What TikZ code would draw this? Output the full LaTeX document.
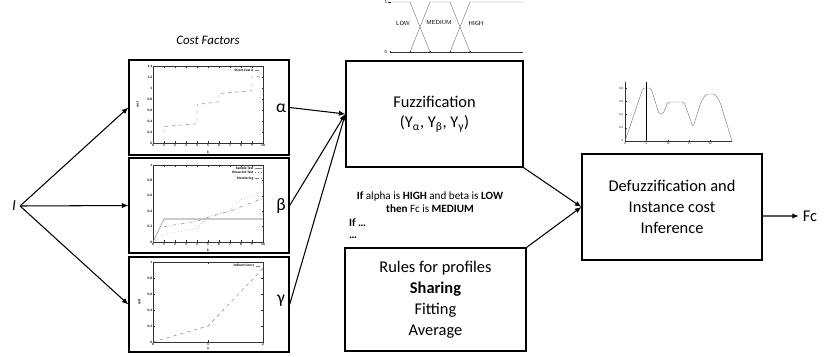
\documentclass[tikz,border=0pt]{standalone}
\usepackage{fontspec}
\setmainfont{Carlito}
\usetikzlibrary{positioning, arrows.meta}

\tikzset{
  blockbox/.style={draw, line width=1.1pt, align=center, font=\fontsize{14}{17.5}\selectfont},
  plotbox/.style={draw, line width=1.1pt, minimum width=4.8cm, minimum height=2.85cm},
  flow/.style={-{Latex[length=5.5pt, width=4.5pt]}, line width=0.9pt},
  ticklbl/.style={font=\fontsize{3}{3}\selectfont\bfseries, inner sep=0.6pt},
  axisline/.style={line width=0.3pt, black!80},
  curve/.style={line width=0.4pt, gray},
}

\begin{document}
\begin{tikzpicture}[x=0.03cm, y=-0.03cm]
  \useasboundingbox (0,0) rectangle (837,356);

  % input and cost factor plots
  \node[font=\fontsize{13}{13}\selectfont\itshape] (inp) at (14,206) {I};
  \node[font=\fontsize{11}{11}\selectfont\itshape] (factors) at (208,40) {Cost Factors};

  \node[plotbox] (costA) at (209,107.5) {};
  \node[plotbox] (costB) at (209,205.5) {};
  \node[plotbox] (costC) at (209,304.5) {};

  \node[font=\fontsize{15}{15}\selectfont] (lblA) at (281,108) {α};
  \node[font=\fontsize{15}{15}\selectfont] (lblB) at (281,206) {β};
  \node[font=\fontsize{15}{15}\selectfont] (lblC) at (281,301) {γ};

  % direct cost
  \begin{scope}[shift={(153,143)}, x=0.33cm, y=1.65cm]
    \draw[axisline] (0,0) rectangle (10,1.4);
    \foreach \t in {0,...,10} {
      \draw[axisline] (\t,0) -- ++(0,0.03) (\t,1.4) -- ++(0,-0.03);
      \node[ticklbl, below] (kA\t) at (\t,0) {\t};
    }
    \foreach \v [count=\i] in {0,0.2,0.4,0.6,0.8,1,1.2,1.4} {
      \draw[axisline] (0,\v) -- ++(0.12,0) (10,\v) -- ++(-0.12,0);
      \node[ticklbl, left] (vA\i) at (0,\v) {\v};
    }
    \node[ticklbl, rotate=90] (yA) at (-1.4,0.7) {cost};
    \node[ticklbl] (xA) at (5,-0.16) {k};
    \draw[curve, dashed] (0,0) -- (1,0) -- (1,0.3) -- (4,0.35) -- (4,0.7) -- (6,0.75)
      -- (6,0.9) -- (9,0.95) -- (9,1.2) -- (10,1.22);
    \node[ticklbl, anchor=east] (legA) at (9.2,1.32) {Direct Cost α};
    \draw[curve, dashed] (9.3,1.32) -- (9.9,1.32);
  \end{scope}

  % tests
  \begin{scope}[shift={(153,242)}, x=0.33cm, y=2.31cm]
    \draw[axisline] (0,0) rectangle (10,1);
    \foreach \t in {0,...,10} {
      \draw[axisline] (\t,0) -- ++(0,0.03) (\t,1) -- ++(0,-0.03);
      \node[ticklbl, below] (kB\t) at (\t,0) {\t};
    }
    \foreach \v [count=\i] in {0,0.2,0.4,0.6,0.8,1} {
      \draw[axisline] (0,\v) -- ++(0.12,0) (10,\v) -- ++(-0.12,0);
      \node[ticklbl, left] (vB\i) at (0,\v) {\v};
    }
    \node[ticklbl] (xB) at (5,-0.11) {k};
    \draw[gray!40, line width=1.2pt] (1,0.3) -- (10,0.3);
    \draw[curve] (0,0) -- (1,0.3);
    \draw[curve, dotted] (0,0) -- (1,0.1) -- (4,0.18) -- (5,0.33) -- (7,0.42) -- (8,0.55) -- (10,0.65);
    \draw[curve, dash dot] (1,0.2) -- (4,0.27) -- (5,0.32) -- (7,0.4) -- (10,0.57);
    \node[ticklbl, anchor=east] (legB1) at (9.2,0.96) {Sample Test};
    \node[ticklbl, anchor=east] (legB2) at (9.2,0.9) {Recurrent Test};
    \node[ticklbl, anchor=east] (legB3) at (9.2,0.83) {Monitoring};
    \draw[curve] (9.3,0.96) -- (9.9,0.96);
    \draw[curve, dotted] (9.3,0.9) -- (9.9,0.9);
    \draw[curve, dash dot] (9.3,0.83) -- (9.9,0.83);
  \end{scope}

  % indirect cost
  \begin{scope}[shift={(153,342)}, x=1.65cm, y=2.4cm]
    \draw[axisline] (0,0) rectangle (2,1);
    \foreach \t in {0,1,2} {
      \draw[axisline] (\t,0) -- ++(0,0.03) (\t,1) -- ++(0,-0.03);
      \node[ticklbl, below] (kC\t) at (\t,0) {\t};
    }
    \foreach \v [count=\i] in {0,0.2,0.4,0.6,0.8,1} {
      \draw[axisline] (0,\v) -- ++(0.04,0) (2,\v) -- ++(-0.04,0);
      \node[ticklbl, left] (vC\i) at (0,\v) {\v};
    }
    \node[ticklbl, rotate=90] (yC) at (-0.25,0.5) {cost};
    \node[ticklbl] (xC) at (1,-0.08) {n};
    \draw[curve, dashed] (0,0) -- (1,0.2) -- (2,0.92);
    \node[ticklbl, anchor=east] (legC) at (1.86,0.95) {Indirect Cost γ};
    \draw[curve, dashed] (1.88,0.95) -- (1.98,0.95);
  \end{scope}

  % main blocks
  \node[blockbox, minimum width=5.31cm, minimum height=3.18cm] (fuzz) at (434.5,114)
    {Fuzzification\\(Y\textsubscript{α}, Y\textsubscript{β}, Y\textsubscript{γ})};
  \node[blockbox, minimum width=5.43cm, minimum height=3.09cm,
        font=\fontsize{14}{18}\selectfont] (rules) at (435.5,299.5)
    {Rules for profiles\\\textbf{Sharing}\\Fitting\\Average};
  \node[blockbox, minimum width=5.4cm, minimum height=3.18cm,
        font=\fontsize{14}{18}\selectfont] (defuzz) at (672,207)
    {Defuzzification and\\Instance cost\\Inference};
  \node[font=\fontsize{14}{14}\selectfont] (fc) at (810,216) {Fc};

  % rule text
  \node[font=\fontsize{9.5}{11}\selectfont, align=center] (ruleA) at (430,202)
    {\textbf{If} alpha is \textbf{HIGH} and beta is \textbf{LOW}\\\textbf{then} Fc is \textbf{MEDIUM}};
  \node[font=\fontsize{9.5}{11}\selectfont\bfseries, anchor=west, inner sep=0pt] (ruleB) at (349,223) {If …};
  \node[font=\fontsize{9.5}{11}\selectfont\bfseries, anchor=west, inner sep=0pt] (ruleC) at (349,238) {…};

  % membership functions
  \draw[curve] (390,2) -- (410,2) -- (430,52);
  \draw[curve] (410,52) -- (430,2) -- (450,2) -- (470,52);
  \draw[curve] (450,52) -- (470,2) -- (523,2);
  \draw[axisline] (390,52) -- (523,52);
  \foreach \p in {390,410,430,450,470} \draw[axisline] (\p,52) -- ++(0,-1.5);
  \draw[axisline] (388,2) -- (391,2);
  \node[ticklbl, font=\fontsize{4}{4}\selectfont, anchor=east] (muA) at (388,2) {1};
  \node[ticklbl, font=\fontsize{4}{4}\selectfont, anchor=east] (muB) at (388,52) {0};
  \node[font=\fontsize{5}{5}\selectfont\sffamily] (low) at (403,23) {LOW};
  \node[font=\fontsize{5}{5}\selectfont\sffamily] (med) at (439,23) {MEDIUM};
  \node[font=\fontsize{5}{5}\selectfont\sffamily] (high) at (476,23) {HIGH};

  % aggregated output
  \draw[axisline] (625,82) -- (625,141) -- (732,141);
  \draw[line width=0.4pt] (646,82) -- (646,141);
  \draw[curve, rounded corners=1.5pt] (625,141) -- (643,88) -- (651,88) -- (659,114) -- (663,114)
    -- (668,102) -- (684,102) -- (693,127) -- (701,102) -- (706,94) -- (715,94) -- (720,102) -- (732,141);
  \foreach \v/\py [count=\i] in {0/141,0.2/127.8,0.4/114.4,0.6/101.6,0.8/88.3} {
    \draw[axisline] (625,\py) -- ++(1.5,0);
    \node[ticklbl, font=\fontsize{2.5}{2.5}\selectfont, anchor=east] (dy\i) at (624,\py) {\v};
  }
  \foreach \v/\px [count=\i] in {0/625,5/646,10/668,15/689,20/710} {
    \draw[axisline] (\px,141) -- ++(0,-1.5);
    \node[ticklbl, font=\fontsize{2.5}{2.5}\selectfont, anchor=north] (dx\i) at (\px,142) {\v};
  }

  % connectors
  \draw[flow] (inp.east) -- (costA.west);
  \draw[flow] (inp.east) -- (costB.west);
  \draw[flow] (inp.east) -- (costC.west);

  \draw[flow] (costA.east) -- (fuzz.west);
  \draw[flow] (costB.east) -- (fuzz.west);
  \draw[flow] (costC.east) -- (fuzz.west);

  \draw[flow] (fuzz.south east) -- (defuzz.west);
  \draw[flow] (rules.north east) -- (defuzz.west);
  \draw[flow] ([yshift=-0.27cm]defuzz.east) -- (fc.west);
\end{tikzpicture}
\end{document}
